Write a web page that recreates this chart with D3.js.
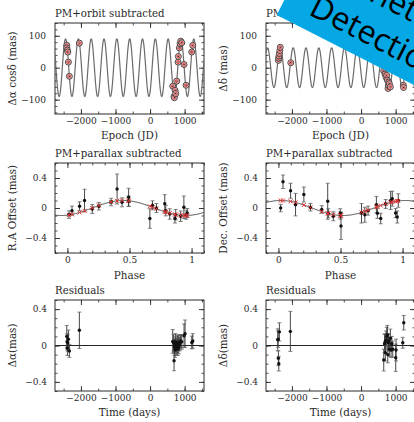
<!DOCTYPE html>
<html><head><meta charset="utf-8">
<script src="https://cdn.jsdelivr.net/npm/d3@7"></script>
<style>
html,body{margin:0;padding:0;background:#fff;}
svg{display:block;}
</style></head><body>
<svg id="c" width="414" height="422"></svg>
<script>
// ---------------- DATA ----------------
// Row 1: PM+orbit subtracted (epoch in days, offset in mas)
const raEpoch  = [-2409,-2409,-2392,-2380,-2363,-2334,-2045,656,694,703,723,743,772,810,818,847,868,888,917,983,1041,1206,1235];
const raOffset = [70,62,55,49,17.5,-27,77,-58,-90,-94,-71,-81,-42,17.5,35,62,75,83,78,10,-55,49,70];
const decEpoch  = [-2390,-2385,-2375,-2362,-2350,-2338,-2033,656,694,723,742,760,780,790,800,818,847,1222,1228];
const decOffset = [23,30,37,45,54,64,15.5,-10,-20,-30,-24,-39,-65,-55,-45,-50,-60,-55,-62];
// parallax model (amplitude mas, period days, epoch of maximum)
const raModelAmp = 90, raModelPeriod = 371, raModelPeak = 894;
const decModelAmp = 62, decModelPeriod = 371, decModelPeak = 1004;

// Row 2: PM+parallax subtracted vs orbital phase (mas)
const raPhase    = [0.013,0.037,0.098,0.138,0.2,0.253,0.352,0.4,0.44,0.493,0.493,0.664,0.685,0.717,0.784,0.792,0.824,0.866,0.872,0.912,0.938,0.957,0.965];
const raPhaseOff = [-0.088,-0.035,0.023,0.1,-0.013,0.023,0.08,0.253,0.076,0.143,0.09,-0.14,0.036,0.0,0.058,-0.035,-0.08,-0.14,-0.09,-0.11,0.01,-0.09,-0.067];
const raPhaseErr = [0.05,0.06,0.06,0.15,0.06,0.05,0.05,0.2,0.06,0.12,0.07,0.13,0.06,0.06,0.12,0.07,0.07,0.06,0.07,0.07,0.15,0.06,0.06];
const decPhase    = [0.018,0.037,0.098,0.138,0.205,0.258,0.349,0.397,0.402,0.442,0.498,0.504,0.5,0.669,0.696,0.722,0.789,0.797,0.824,0.864,0.904,0.917,0.944,0.957,0.965];
const decPhaseOff = [0.0,0.35,0.23,0.045,0.18,0.01,-0.02,0.09,-0.07,-0.11,-0.07,-0.24,-0.1,-0.07,-0.09,-0.035,0.045,-0.07,-0.14,0.053,0.1,0.125,-0.067,-0.12,0.1];
const decPhaseErr = [0.05,0.09,0.1,0.15,0.1,0.05,0.05,0.24,0.06,0.06,0.06,0.18,0.05,0.13,0.1,0.06,0.11,0.07,0.07,0.06,0.12,0.1,0.06,0.08,0.09];
// orbit model (semi-amplitude mas, phase of maximum)
const raOrbitAmp = 0.1, raOrbitPeak = 0.45;
const decOrbitAmp = 0.1, decOrbitPeak = 0.02;

// Row 3: residuals (time in days, mas)
const resRaTime = [-2409,-2400,-2392,-2380,-2363,-2334,-2045,656,680,694,703,710,723,735,743,760,772,790,800,810,818,830,847,868,888,917,983,1012,1206,1235];
const resRaVal  = [0.1,0.04,-0.03,0.027,0.07,-0.06,0.167,0.045,0.03,-0.167,0.0,-0.02,-0.05,0.04,0.02,-0.03,0.0,0.03,-0.04,0.02,0.04,-0.02,0.01,0.03,0.05,0.04,0.107,0.13,0.033,0.05];
const resRaErr  = [0.12,0.09,0.08,0.09,0.1,0.07,0.2,0.13,0.09,0.11,0.08,0.09,0.08,0.09,0.08,0.07,0.08,0.08,0.07,0.07,0.08,0.07,0.07,0.08,0.07,0.08,0.13,0.15,0.07,0.08];
const resDecTime = [-2409,-2400,-2392,-2380,-2363,-2045,656,680,694,703,723,743,760,772,790,800,818,847,868,888,917,1003,1012,1206,1235];
const resDecVal  = [0.063,0.07,-0.14,-0.2,0.15,0.155,-0.16,0.02,0.04,-0.08,0.06,0.1,0.12,-0.1,0.03,0.05,-0.04,0.08,-0.05,0.02,-0.04,-0.135,-0.05,0.03,0.25];
const resDecErr  = [0.12,0.09,0.08,0.08,0.1,0.22,0.12,0.1,0.09,0.09,0.1,0.1,0.1,0.09,0.09,0.08,0.08,0.1,0.08,0.08,0.09,0.15,0.12,0.06,0.08];

// tick values
const epochMajor = [-2000,-1000,0,1000];
const epochMinor = d3.range(-2500,1600,500);
const mainYMajor = [-100,0,100];
const mainYMinor = d3.range(-140,141,20);
const phaseMajor = [0,0.5,1];
const phaseMinor = d3.range(-0.1,1.11,0.1);
const offYMajor = [-0.4,0,0.4];
const offYMinor = d3.range(-0.6,0.61,0.1);
const resYMajor = [-0.4,0,0.4];
const resYMinor = d3.range(-0.5,0.51,0.1);

// titles
const titlesRow = ["PM+orbit subtracted","PM+parallax subtracted","Residuals"];
const yTitles = [["Δα cosδ (mas)","Δδ (mas)"],["R.A Offset (mas)","Dec. Offset (mas)"],["Δα(mas)","Δδ(mas)"]];
const xTitles = ["Epoch (JD)","Phase","Time (days)"];
const bannerLines = ["Planet","Detection"];

// ---------------- DRAWING ----------------
const svg = d3.select("#c");
const FONT = '"DejaVu Serif", serif';
const INK = "#2a2a2a";
const colX = [55,266], PW = 149;
const rows = [{top:23,h:91},{top:163,h:90},{top:300,h:91}];

const fmt = d => (d<0 ? "\u2212" : "") + Math.abs(d);

function panel(cfg){
  const g = svg.append("g").attr("transform",`translate(${cfg.x},${cfg.y})`);
  const x = d3.scaleLinear().domain(cfg.xDomain).range([0,cfg.w]);
  const y = d3.scaleLinear().domain(cfg.yDomain).range([cfg.h,0]);
  const id = "clip"+Math.round(cfg.x)+"_"+Math.round(cfg.y);
  g.append("clipPath").attr("id",id).append("rect").attr("width",cfg.w).attr("height",cfg.h);
  const makers = [()=>d3.axisBottom(x),()=>d3.axisTop(x),()=>d3.axisLeft(y),()=>d3.axisRight(y)];
  const sides = [
    {t:`translate(0,${cfg.h})`, maj:cfg.xMajor, min:cfg.xMinor, lab:true, pad:cfg.xPad},
    {t:`translate(0,0)`, maj:cfg.xMajor, min:cfg.xMinor, lab:false},
    {t:`translate(0,0)`, maj:cfg.yMajor, min:cfg.yMinor, lab:true, pad:cfg.yPad},
    {t:`translate(${cfg.w},0)`, maj:cfg.yMajor, min:cfg.yMinor, lab:false}
  ];
  sides.forEach((o,k)=>{
    const gm = g.append("g").attr("transform",o.t)
      .call(makers[k]().tickValues(o.min).tickSize(-2.5).tickFormat(""));
    gm.select(".domain").remove();
    gm.selectAll("line").attr("stroke",INK).attr("stroke-width",0.8);
    const gM = g.append("g").attr("transform",o.t)
      .call(makers[k]().tickValues(o.maj).tickSize(-5).tickPadding(o.pad||3).tickFormat(o.lab ? cfg.fmt : ""));
    gM.select(".domain").remove();
    gM.selectAll("line").attr("stroke",INK).attr("stroke-width",0.9);
    gM.attr("font-family",FONT).attr("font-size",cfg.tickFont);
    gM.selectAll("text").attr("fill",INK);
  });
  g.append("rect").attr("width",cfg.w).attr("height",cfg.h).attr("fill","none").attr("stroke",INK).attr("stroke-width",1);
  g.append("text").attr("x",0).attr("y",-6).attr("font-family",FONT).attr("font-size",10.2).attr("fill",INK).text(cfg.title);
  g.append("text").attr("x",cfg.w/2).attr("y",cfg.h+cfg.xTitleDy).attr("text-anchor","middle")
    .attr("font-family",FONT).attr("font-size",10.4).attr("fill",INK).text(cfg.xTitle);
  g.append("text").attr("transform",`translate(${cfg.yTitleDx},${cfg.h/2}) rotate(-90)`).attr("text-anchor","middle")
    .attr("font-family",FONT).attr("font-size",10.4).attr("fill",INK).text(cfg.yTitle);
  const plot = g.append("g").attr("clip-path",`url(#${id})`);
  return {g, plot, x, y};
}

// Row 1
function mainPanel(col, ep, off, amp, per, peak){
  const p = panel({x:colX[col], y:rows[0].top, w:PW, h:rows[0].h, xDomain:[-2750,1560], yDomain:[-145,140],
    xMajor:epochMajor, xMinor:epochMinor, yMajor:mainYMajor, yMinor:mainYMinor, fmt:fmt, tickFont:9,
    xPad:4, yPad:9, title:titlesRow[0], xTitle:xTitles[0], yTitle:yTitles[0][col], xTitleDy:25, yTitleDx:-39});
  const ts = d3.range(-2750,1561,4);
  const line = d3.line().x(t=>p.x(t)).y(t=>p.y(amp*Math.cos(2*Math.PI*(t-peak)/per)));
  p.plot.append("path").attr("d",line(ts)).attr("fill","none").attr("stroke","#6a6a6a").attr("stroke-width",1.2);
  const pts = p.plot.selectAll("g.pt").data(ep.map((t,i)=>[t,off[i]])).join("g")
    .attr("transform",d=>`translate(${p.x(d[0])},${p.y(d[1])})`);
  pts.append("circle").attr("r",3).attr("fill","#f5c2c2").attr("stroke","#3a3a3a").attr("stroke-width",0.9);
  pts.append("circle").attr("r",1.5).attr("fill","none").attr("stroke","#d03030").attr("stroke-width",0.8);
  pts.append("circle").attr("r",0.7).attr("fill","#222");
}
mainPanel(0, raEpoch, raOffset, raModelAmp, raModelPeriod, raModelPeak);
mainPanel(1, decEpoch, decOffset, decModelAmp, decModelPeriod, decModelPeak);

function errPoints(p, xs, vs, es){
  const d = xs.map((x,i)=>[x,vs[i],es[i]]);
  const gg = p.plot.append("g");
  d.forEach(([xv,v,e])=>{
    const X = p.x(xv);
    gg.append("line").attr("x1",X).attr("x2",X).attr("y1",p.y(v-e)).attr("y2",p.y(v+e)).attr("stroke","#333").attr("stroke-width",0.9);
    [v-e,v+e].forEach(c=>gg.append("line").attr("x1",X-2).attr("x2",X+2).attr("y1",p.y(c)).attr("y2",p.y(c)).attr("stroke","#666").attr("stroke-width",0.8));
  });
  gg.selectAll("circle").data(d).join("circle").attr("cx",q=>p.x(q[0])).attr("cy",q=>p.y(q[1])).attr("r",1.7).attr("fill","#111");
}

// Row 2
function phasePanel(col, ph, off, err, amp, pk){
  const p = panel({x:colX[col], y:rows[1].top, w:PW, h:rows[1].h, xDomain:[-0.1,1.1], yDomain:[-0.6,0.6],
    xMajor:phaseMajor, xMinor:phaseMinor, yMajor:offYMajor, yMinor:offYMinor,
    fmt:d=>(d<0?"\u2212":"")+Math.abs(d), tickFont:9, xPad:4, yPad:8,
    title:titlesRow[1], xTitle:xTitles[1], yTitle:yTitles[1][col], xTitleDy:26, yTitleDx:-39});
  const model = f => amp*Math.cos(2*Math.PI*(f-pk));
  const fs = d3.range(-0.1,1.101,0.005);
  p.plot.append("path").attr("d",d3.line().x(f=>p.x(f)).y(f=>p.y(model(f)))(fs))
    .attr("fill","none").attr("stroke","#444").attr("stroke-width",1);
  errPoints(p, ph, off, err);
  const s = 2;
  p.plot.selectAll("path.xm").data(ph).join("path").attr("class","xm")
    .attr("d",f=>{const X=p.x(f),Y=p.y(model(f));return `M${X-s},${Y-s}L${X+s},${Y+s}M${X-s},${Y+s}L${X+s},${Y-s}`;})
    .attr("stroke","#e23030").attr("stroke-width",1);
}
phasePanel(0, raPhase, raPhaseOff, raPhaseErr, raOrbitAmp, raOrbitPeak);
phasePanel(1, decPhase, decPhaseOff, decPhaseErr, decOrbitAmp, decOrbitPeak);

// Row 3
function resPanel(col, t, v, e){
  const p = panel({x:colX[col], y:rows[2].top, w:PW, h:rows[2].h, xDomain:[-2750,1560], yDomain:[-0.5,0.5],
    xMajor:epochMajor, xMinor:epochMinor, yMajor:resYMajor, yMinor:resYMinor,
    fmt:d=>(d<0?"\u2212":"")+Math.abs(d), tickFont:9, xPad:4, yPad:8,
    title:titlesRow[2], xTitle:xTitles[2], yTitle:yTitles[2][col], xTitleDy:25, yTitleDx:-39});
  p.plot.append("line").attr("x1",0).attr("x2",PW).attr("y1",p.y(0)).attr("y2",p.y(0)).attr("stroke","#222").attr("stroke-width",1);
  errPoints(p, t, v, e);
}
resPanel(0, resRaTime, resRaVal, resRaErr);
resPanel(1, resDecTime, resDecVal, resDecErr);

// Banner
const b = svg.append("g").attr("transform","translate(276.7,15) rotate(27)");
b.append("rect").attr("x",0).attr("y",-220).attr("width",400).attr("height",220).attr("fill","#05a7e4");
b.selectAll("text").data(bannerLines).join("text")
  .attr("x",(d,i)=>i?27:29).attr("y",(d,i)=>i?-15:-55)
  .attr("font-family",'"Open Sans", sans-serif').attr("font-size",32).attr("fill","#000").text(d=>d);
</script>
</body></html>
